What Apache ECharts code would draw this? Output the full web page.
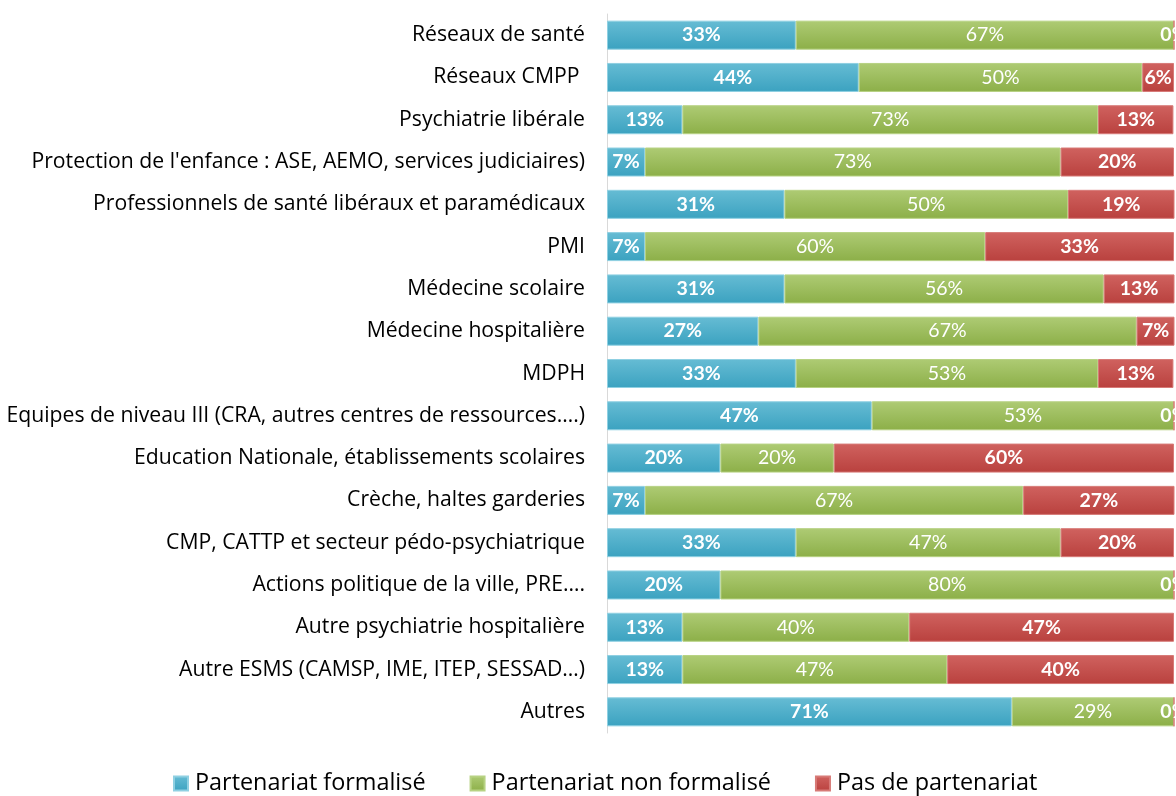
<!DOCTYPE html>
<html>
<head>
<meta charset="utf-8">
<script src="https://cdn.jsdelivr.net/npm/echarts@6/dist/echarts.min.js"></script>
<style>
  html, body { margin: 0; padding: 0; background: #fff; }
  #chart { width: 1176px; height: 796px; }
</style>
</head>
<body>
<div id="chart"></div>
<script>
// categories, top to bottom
var categories = [
  'Réseaux de santé',
  'Réseaux CMPP ',
  'Psychiatrie libérale',
  "Protection de l'enfance : ASE, AEMO, services judiciaires)",
  'Professionnels de santé libéraux et paramédicaux',
  'PMI',
  'Médecine scolaire',
  'Médecine hospitalière',
  'MDPH',
  'Equipes de niveau III (CRA, autres centres de ressources….)',
  'Education Nationale, établissements scolaires',
  'Crèche, haltes garderies',
  'CMP, CATTP et secteur pédo-psychiatrique',
  'Actions politique de la ville, PRE….',
  'Autre psychiatrie hospitalière',
  'Autre ESMS (CAMSP, IME, ITEP, SESSAD…)',
  'Autres'
];

// % values
var formalise    = [33.3, 44.4, 13.3, 6.7, 31.3, 6.7, 31.3, 26.7, 33.3, 46.7, 20, 6.7, 33.3, 20, 13.3, 13.3, 71.4];
var nonFormalise = [66.7, 50, 73.3, 73.3, 50, 60, 56.3, 66.7, 53.3, 53.3, 20, 66.7, 46.7, 80, 40, 46.7, 28.6];
var pasPartenariat = [0, 5.6, 13.3, 20, 18.8, 33.3, 12.5, 6.7, 13.3, 0, 60, 26.7, 20, 0, 46.7, 40, 0];

var seriesNames = ['Partenariat formalisé', 'Partenariat non formalisé', 'Pas de partenariat'];

function grad(top, bottom) {
  return new echarts.graphic.LinearGradient(0, 0, 0, 1, [
    { offset: 0, color: top },
    { offset: 1, color: bottom }
  ]);
}

var chart = echarts.init(document.getElementById('chart'));

function makeSeries(name, data, top, bottom, border, bold) {
  return {
    name: name,
    type: 'bar',
    stack: 'total',
    barWidth: 29,
    data: data,
    itemStyle: {
      color: grad(top, bottom),
      borderColor: border,
      borderWidth: 1
    },
    label: {
      show: true,
      position: 'inside',
      color: '#fff',
      fontSize: 19.5,
      fontWeight: bold ? 'bold' : 'normal',
      fontFamily: 'Lato',
      formatter: function (p) { return Math.round(p.value) + '%'; }
    },
    emphasis: { disabled: true }
  };
}

chart.setOption({
  animation: false,
  grid: { left: 607, right: 2, top: 14, bottom: 63 },
  xAxis: {
    type: 'value',
    min: 0,
    max: 100,
    show: false
  },
  yAxis: {
    type: 'category',
    inverse: true,
    data: categories,
    axisTick: { show: false },
    axisLine: { show: true, lineStyle: { color: '#d9d9d9', width: 1 } },
    axisLabel: {
      color: '#000',
      fontSize: 21.2,
      fontFamily: 'Open Sans',
      margin: 22,
      lineHeight: 26,
      padding: [5, 0, 0, 0]
    }
  },
  legend: {
    bottom: -4,
    left: 168,
    itemWidth: 14,
    itemHeight: 14,
    itemGap: 44,
    icon: 'rect',
    textStyle: { fontSize: 23.4, color: '#000', fontFamily: 'Open Sans', padding: [0, 0, 0, 2] },
    data: seriesNames
  },
  series: [
    makeSeries(seriesNames[0], formalise, '#66BCD4', '#3BA2C0', '#8fd0e2', true),
    makeSeries(seriesNames[1], nonFormalise, '#AECB74', '#8CAF48', '#b7d283', false),
    makeSeries(seriesNames[2], pasPartenariat, '#D0625F', '#B9413E', '#d77a77', true)
  ]
});
</script>
</body>
</html>
